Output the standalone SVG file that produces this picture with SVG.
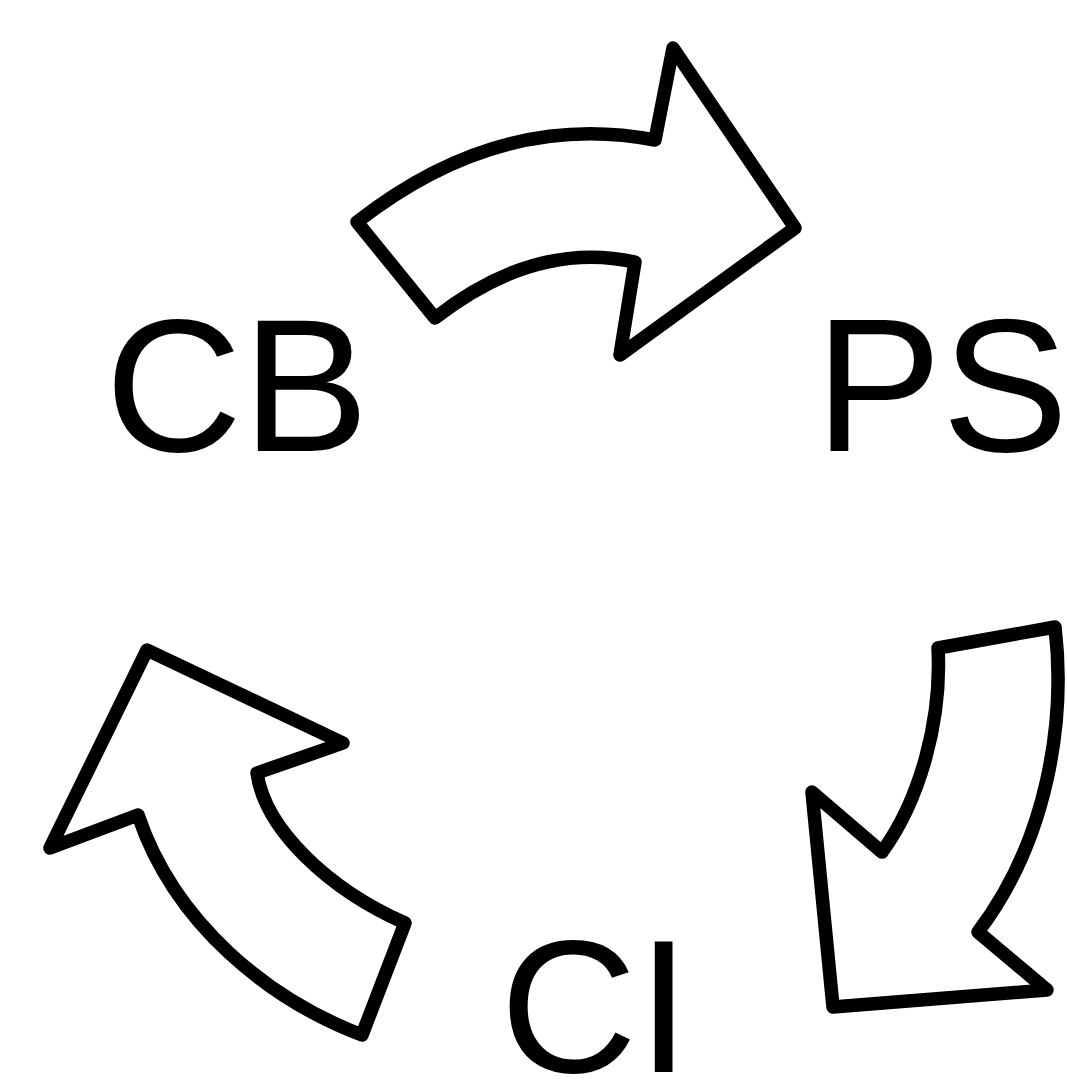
<svg xmlns="http://www.w3.org/2000/svg" width="1067" height="1080" viewBox="0 0 1067 1080">
  <style>
    .label { font-family: "Liberation Sans", Arial, sans-serif; font-size: 190px; fill: #000; }
    .arrow { fill: #fff; stroke: #000; stroke-width: 13.5; stroke-linejoin: round; }
  </style>
  <rect width="1067" height="1080" fill="#fff"/>

  <g id="node-cb"><text class="label" x="105" y="451">CB</text></g>
  <g id="node-ps"><text class="label" x="815" y="451">PS</text></g>
  <g id="node-ci"><text class="label" x="500" y="1072">CI</text></g>

  <g id="connectors">
    <!-- CB to PS -->
    <path class="arrow" d="M357,222 Q500,110 655,140 L673,48 L795,228 L620,355 L635,262 Q535,240 435,318 Z"/>
    <!-- PS to CI -->
    <path class="arrow" d="M938,648 L1055,627 C1066,720 1048,840 978,932 L1047,990 L833,1007 L812,792 L882,852 C920,800 942,720 938,648 Z"/>
    <!-- CI to CB -->
    <path class="arrow" d="M147,650 L343,743 L257,773 C265,830 330,890 405,923 L362,1035 C270,1000 175,925 138,815 L50,848 Z"/>
  </g>
</svg>
